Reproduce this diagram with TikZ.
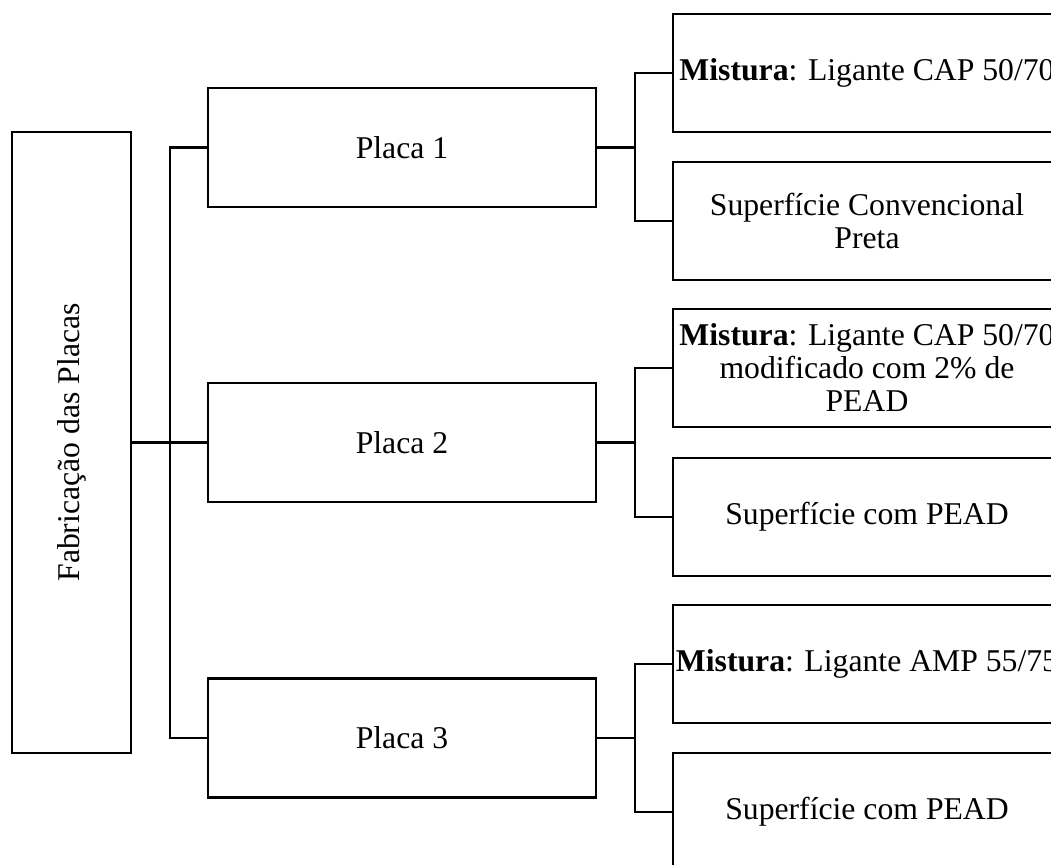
\documentclass[tikz,border=0pt]{standalone}
\usepackage{fontspec}
\setmainfont{Liberation Serif}
\begin{document}
\begin{tikzpicture}[x=1pt,y=-1pt,
  box/.style={draw=black, line width=2.4pt, rectangle, inner sep=0pt, align=center,
    font=\fontsize{31.7}{33}\selectfont},
  placabox/.style={box, minimum width=388pt, minimum height=119pt},
  itembox/.style={box, minimum width=388pt, minimum height=118pt},
  conn/.style={draw=black, line width=2.4pt}]
\useasboundingbox (0,0) rectangle (1051,864);
\clip (0,0) rectangle (1051,864);
\node[box, minimum width=119pt, minimum height=621pt] (fab) at (71.5,442.5) {\rotatebox{90}{Fabricação das Placas}};
\node[placabox] (p1) at (402,147.5) {Placa 1};
\node[placabox] (p2) at (402,442.5) {Placa 2};
\node[placabox] (p3) at (402,738) {Placa 3};
\node[itembox] (r1) at (867,73) {\textbf{Mistura}: Ligante CAP 50/70};
\node[itembox] (r2) at (867,221) {Superfície Convencional\\Preta};
\node[itembox] (r3) at (867,368) {\textbf{Mistura}: Ligante CAP 50/70\\modificado com 2\% de\\PEAD};
\node[itembox] (r4) at (867,517) {Superfície com PEAD};
\node[itembox] (r5) at (867,664) {\textbf{Mistura}: Ligante AMP 55/75};
\node[itembox] (r6) at (867,812) {Superfície com PEAD};
\coordinate (j) at (170,442.5);
\coordinate (k) at (635,0);
\draw[conn] (fab.east) -- (p2.west);
\draw[conn] (p1.west) -- (p1.west -| j) -- (p3.west -| j) -- (p3.west);
\draw[conn] (p1.east) -- (p1.east -| k);
\draw[conn] (r1.west) -- (r1.west -| k) -- (r2.west -| k) -- (r2.west);
\draw[conn] (p2.east) -- (p2.east -| k);
\draw[conn] (r3.west) -- (r3.west -| k) -- (r4.west -| k) -- (r4.west);
\draw[conn] (p3.east) -- (p3.east -| k);
\draw[conn] (r5.west) -- (r5.west -| k) -- (r6.west -| k) -- (r6.west);
\end{tikzpicture}
\end{document}
